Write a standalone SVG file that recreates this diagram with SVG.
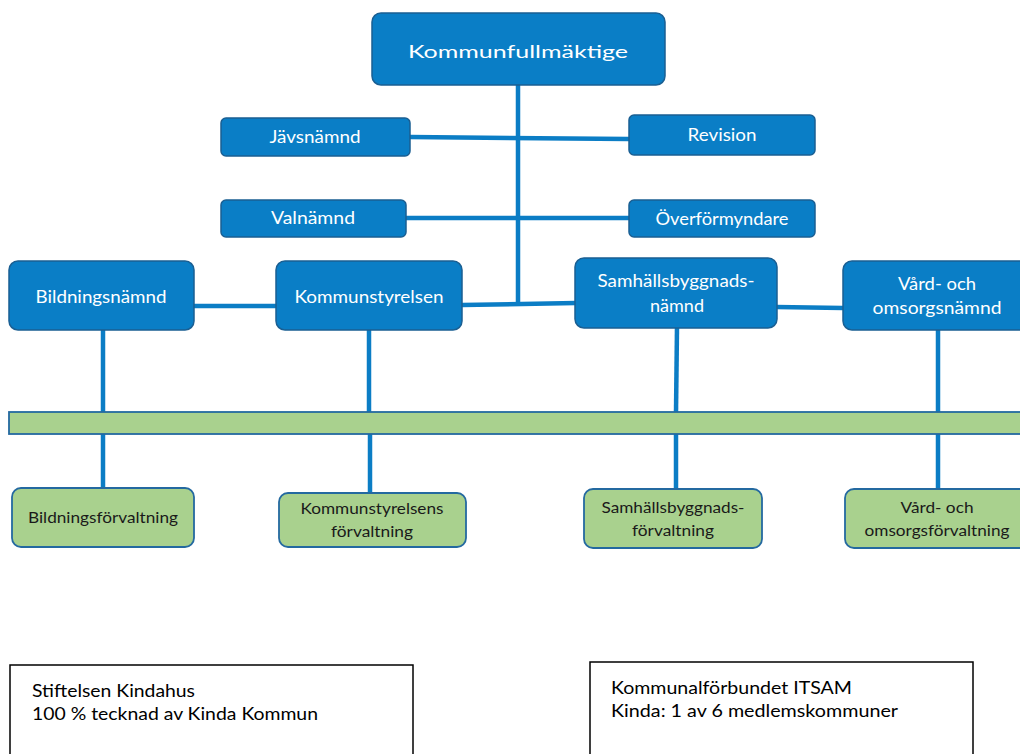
<svg xmlns="http://www.w3.org/2000/svg" width="1020" height="754" viewBox="0 0 1020 754">
<style>
.b{fill:#0A7EC6;stroke:#1A5F93;stroke-width:1.5}
.g{fill:#A9D18E;stroke:#2469A0;stroke-width:1.8}
.w{fill:#FFFFFF;stroke:#000000;stroke-width:1.5}
.c{stroke:#0B7DC5;stroke-width:4.5;fill:none}
.tw{font-family:Lato,"Open Sans",sans-serif;fill:#FFFFFF;font-size:17px;text-anchor:middle}
.tg{font-family:Lato,"Open Sans",sans-serif;fill:#1A1A1A;font-size:16px;text-anchor:middle}
.tb{font-family:Lato,"Open Sans",sans-serif;fill:#000000;font-size:17px}
</style>
<rect width="1020" height="754" fill="#FFFFFF"/>
<g id="connectors">
<line class="c" x1="518" y1="85" x2="518" y2="305"/>
<line class="c" x1="410" y1="137" x2="629" y2="139"/>
<line class="c" x1="406" y1="218" x2="629" y2="218"/>
<line class="c" x1="193" y1="306" x2="276" y2="306"/>
<line class="c" x1="462" y1="305" x2="576" y2="303"/>
<line class="c" x1="776" y1="307" x2="843" y2="308"/>
<line class="c" x1="103" y1="329" x2="103" y2="412"/>
<line class="c" x1="369" y1="329" x2="369" y2="412"/>
<line class="c" x1="677" y1="327" x2="676" y2="412"/>
<line class="c" x1="938" y1="330" x2="938" y2="412"/>
<line class="c" x1="103" y1="434" x2="103" y2="489"/>
<line class="c" x1="370" y1="434" x2="370" y2="493"/>
<line class="c" x1="676" y1="434" x2="676" y2="489"/>
<line class="c" x1="938" y1="434" x2="938" y2="489"/>
</g>
<g id="kommunfullmaktige">
<rect class="b" x="372" y="13" width="293" height="72" rx="9"/>
<text class="tw" x="518" y="58" font-size="24" textLength="220" lengthAdjust="spacingAndGlyphs">Kommunfullmäktige</text>
</g>
<g id="javsnamnd">
<rect class="b" x="221" y="118" width="189" height="38" rx="5"/>
<text class="tw" x="315" y="143" textLength="91" lengthAdjust="spacingAndGlyphs">Jävsnämnd</text>
</g>
<g id="revision">
<rect class="b" x="629" y="115" width="186" height="40" rx="5"/>
<text class="tw" x="722" y="141" textLength="69" lengthAdjust="spacingAndGlyphs">Revision</text>
</g>
<g id="valnamnd">
<rect class="b" x="221" y="200" width="185" height="37" rx="5"/>
<text class="tw" x="313" y="224" textLength="84" lengthAdjust="spacingAndGlyphs">Valnämnd</text>
</g>
<g id="overformyndare">
<rect class="b" x="629" y="200" width="186" height="37" rx="5"/>
<text class="tw" x="722" y="225" textLength="133" lengthAdjust="spacingAndGlyphs">Överförmyndare</text>
</g>
<g id="bildningsnamnd">
<rect class="b" x="9" y="261" width="185" height="69" rx="9"/>
<text class="tw" x="101" y="303" textLength="131" lengthAdjust="spacingAndGlyphs">Bildningsnämnd</text>
</g>
<g id="kommunstyrelsen">
<rect class="b" x="276" y="261" width="186" height="69" rx="9"/>
<text class="tw" x="369" y="303" textLength="149" lengthAdjust="spacingAndGlyphs">Kommunstyrelsen</text>
</g>
<g id="samhallsbyggnadsnamnd">
<rect class="b" x="575" y="258" width="202" height="70" rx="9"/>
<text class="tw" x="676" y="287" textLength="157" lengthAdjust="spacingAndGlyphs">Samhällsbyggnads-</text>
<text class="tw" x="677" y="312" textLength="54" lengthAdjust="spacingAndGlyphs">nämnd</text>
</g>
<g id="vard-omsorgsnamnd">
<rect class="b" x="843" y="261" width="190" height="69" rx="9"/>
<text class="tw" x="937" y="290" textLength="78" lengthAdjust="spacingAndGlyphs">Vård- och</text>
<text class="tw" x="937" y="314" textLength="129" lengthAdjust="spacingAndGlyphs">omsorgsnämnd</text>
</g>
<g id="forvaltningar-bar">
<rect class="g" x="9" y="412" width="1025" height="22"/>
</g>
<g id="bildningsforvaltning">
<rect class="g" x="12" y="488" width="182" height="59" rx="9"/>
<text class="tg" x="103" y="523" textLength="150" lengthAdjust="spacingAndGlyphs">Bildningsförvaltning</text>
</g>
<g id="kommunstyrelsens-forvaltning">
<rect class="g" x="279" y="493" width="187" height="54" rx="9"/>
<text class="tg" x="372" y="514" textLength="143" lengthAdjust="spacingAndGlyphs">Kommunstyrelsens</text>
<text class="tg" x="372" y="537" textLength="82" lengthAdjust="spacingAndGlyphs">förvaltning</text>
</g>
<g id="samhallsbyggnadsforvaltning">
<rect class="g" x="584" y="489" width="178" height="59" rx="9"/>
<text class="tg" x="673" y="513" textLength="143" lengthAdjust="spacingAndGlyphs">Samhällsbyggnads-</text>
<text class="tg" x="673" y="536" textLength="82" lengthAdjust="spacingAndGlyphs">förvaltning</text>
</g>
<g id="vard-omsorgsforvaltning">
<rect class="g" x="845" y="489" width="190" height="59" rx="9"/>
<text class="tg" x="937" y="513" textLength="73" lengthAdjust="spacingAndGlyphs">Vård- och</text>
<text class="tg" x="937" y="536" textLength="145" lengthAdjust="spacingAndGlyphs">omsorgsförvaltning</text>
</g>
<g id="stiftelsen-kindahus">
<rect class="w" x="10" y="665" width="403" height="100"/>
<text class="tb" x="32" y="697" textLength="163" lengthAdjust="spacingAndGlyphs">Stiftelsen Kindahus</text>
<text class="tb" x="32" y="720" textLength="286" lengthAdjust="spacingAndGlyphs">100 % tecknad av Kinda Kommun</text>
</g>
<g id="kommunalforbundet-itsam">
<rect class="w" x="590" y="662" width="383" height="100"/>
<text class="tb" x="611" y="694" textLength="241" lengthAdjust="spacingAndGlyphs">Kommunalförbundet ITSAM</text>
<text class="tb" x="611" y="717" textLength="287" lengthAdjust="spacingAndGlyphs">Kinda: 1 av 6 medlemskommuner</text>
</g>
</svg>
